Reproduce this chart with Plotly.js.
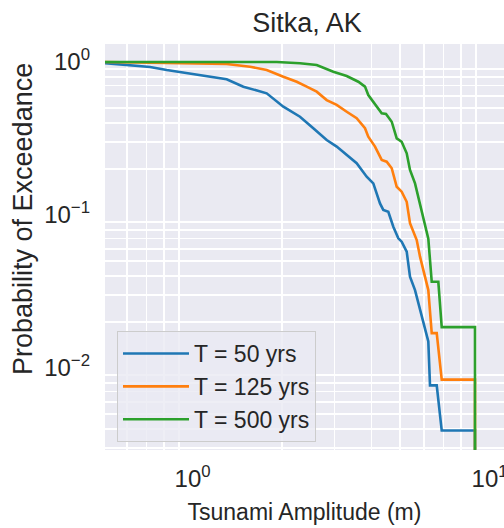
<!DOCTYPE html>
<html>
<head>
<meta charset="utf-8">
<script src="https://cdn.plot.ly/plotly-3.0.1.min.js"></script>
<style>
  html, body { margin: 0; padding: 0; background: #ffffff; overflow: hidden; }
  #chart { width: 504px; height: 528px; }
</style>
</head>
<body>
<div id="chart"></div>
<script>
// ---- Data (tsunami amplitude in m, probability of exceedance) ----
const seriesNames = ["T = 50 yrs", "T = 125 yrs", "T = 500 yrs"];

const ampT50 = [0.50, 0.719, 0.818, 1.059, 1.302, 1.482, 1.776, 2.021, 2.299, 2.549, 2.828, 3.056, 3.388, 3.568, 3.856, 4.059, 4.275, 4.386, 4.560, 4.740, 4.927, 5.058, 5.259, 5.395, 5.609, 5.754, 5.981, 6.218, 6.300, 6.637, 6.899, 8.93, 8.93];
const probT50 = [0.985, 0.928, 0.887, 0.822, 0.771, 0.690, 0.624, 0.510, 0.439, 0.369, 0.309, 0.280, 0.235, 0.218, 0.178, 0.161, 0.119, 0.108, 0.105, 0.0838, 0.0704, 0.0669, 0.0576, 0.0395, 0.0323, 0.0265, 0.0196, 0.0149, 0.0077, 0.0077, 0.0039, 0.0039, 0.00001];

const ampT125 = [0.50, 1.302, 1.561, 1.776, 2.021, 2.242, 2.422, 2.617, 2.828, 3.056, 3.303, 3.568, 3.806, 3.904, 4.113, 4.332, 4.503, 4.682, 4.867, 5.058, 5.259, 5.395, 5.683, 5.831, 6.218, 6.385, 6.637, 6.899, 8.93, 8.93];
const probT125 = [1.0, 0.970, 0.932, 0.887, 0.801, 0.743, 0.690, 0.640, 0.564, 0.524, 0.473, 0.429, 0.369, 0.325, 0.280, 0.229, 0.223, 0.202, 0.153, 0.142, 0.122, 0.0883, 0.0686, 0.0534, 0.0323, 0.0169, 0.0169, 0.0084, 0.0084, 0.00001];

const ampT500 = [0.50, 1.920, 2.299, 2.617, 2.977, 3.303, 3.614, 3.806, 3.904, 4.059, 4.332, 4.479, 4.682, 4.867, 5.058, 5.259, 5.395, 5.609, 5.908, 6.218, 6.385, 6.720, 6.899, 8.93, 8.93];
const probT500 = [1.0, 1.0, 0.981, 0.956, 0.864, 0.810, 0.743, 0.690, 0.608, 0.550, 0.462, 0.457, 0.407, 0.317, 0.301, 0.253, 0.197, 0.161, 0.108, 0.070, 0.0366, 0.0366, 0.0185, 0.0185, 0.00001];

const xTickVals = [1, 10];
const xTickText = ["10<sup>0</sup>", "10<sup>1</sup>"];
const yTickVals = [0.01, 0.1, 1];
const yTickText = ["10<sup>\u22122</sup>", "10<sup>\u22121</sup>", "10<sup>0</sup>"];

// ---- Styling ----
const colors = ["#1f77b4", "#ff7f0e", "#2ca02c"];
const textColor = "#262626";
const font = "Liberation Sans, Arial, Helvetica, sans-serif";

// minor (2..9 per decade) grid positions, no grid at the decades themselves
function minorGrid(d0, d1) {
  const v = [];
  for (let d = d0; d <= d1; d++) {
    for (let k = 2; k <= 9; k++) v.push(k * Math.pow(10, d));
  }
  return v;
}

const xs = [ampT50, ampT125, ampT500];
const ys = [probT50, probT125, probT500];
const traces = seriesNames.map((name, i) => ({
  type: "scatter",
  mode: "lines",
  name: name,
  x: xs[i],
  y: ys[i],
  line: { color: colors[i], width: 2.6 },
  hoverinfo: "skip"
}));

const layout = {
  width: 504,
  height: 528,
  margin: { l: 105, r: 0, t: 44, b: 78, pad: 0 },
  paper_bgcolor: "#ffffff",
  plot_bgcolor: "#EAEAF2",
  font: { family: font, color: textColor, size: 23 },
  showlegend: true,
  title: {
    text: "Sitka, AK",
    font: { family: font, size: 27, color: textColor },
    x: 307 / 504,
    xanchor: "center",
    xref: "container",
    y: 1 - 23 / 528,
    yanchor: "middle",
    yref: "container"
  },
  xaxis: {
    type: "log",
    range: [Math.log10(0.507), 1.0485],
    tickmode: "array",
    tickvals: xTickVals,
    ticktext: xTickText,
    showgrid: false,
    zeroline: false,
    showline: false,
    ticks: "",
    ticklabelstandoff: 12,
    ticklabeloverflow: "allow",
    tickfont: { family: font, size: 24, color: textColor },
    minor: {
      tickmode: "array",
      tickvals: minorGrid(-1, 1),
      showgrid: true,
      gridcolor: "#ffffff",
      gridwidth: 1.6,
      ticks: ""
    },
    title: {
      text: "Tsunami Amplitude (m)",
      font: { family: font, size: 23, color: textColor },
      standoff: 12
    },
    automargin: false
  },
  yaxis: {
    type: "log",
    range: [-2.536, 0.1176],
    tickmode: "array",
    tickvals: yTickVals,
    ticktext: yTickText,
    showgrid: false,
    zeroline: false,
    showline: false,
    ticks: "",
    ticklabelstandoff: 14,
    ticklabeloverflow: "allow",
    tickfont: { family: font, size: 24, color: textColor },
    minor: {
      tickmode: "array",
      tickvals: minorGrid(-3, 0),
      showgrid: true,
      gridcolor: "#ffffff",
      gridwidth: 1.6,
      ticks: ""
    },
    automargin: false
  },
  annotations: [{
    text: "Probability of Exceedance",
    xref: "paper",
    yref: "paper",
    x: (23 - 105) / 399,
    y: (450 - 219) / 406,
    xanchor: "center",
    yanchor: "middle",
    textangle: -90,
    showarrow: false,
    font: { family: font, size: 27, color: textColor }
  }],
  legend: {
    x: (117 - 105) / 399,
    y: (450 - 331) / 406,
    xanchor: "left",
    yanchor: "top",
    bgcolor: "rgba(234,234,242,0.8)",
    bordercolor: "#cccccc",
    borderwidth: 1,
    font: { family: font, size: 23, color: textColor },
    itemwidth: 66
  }
};

Plotly.newPlot("chart", traces, layout, { displayModeBar: false, staticPlot: true });
</script>
</body>
</html>
